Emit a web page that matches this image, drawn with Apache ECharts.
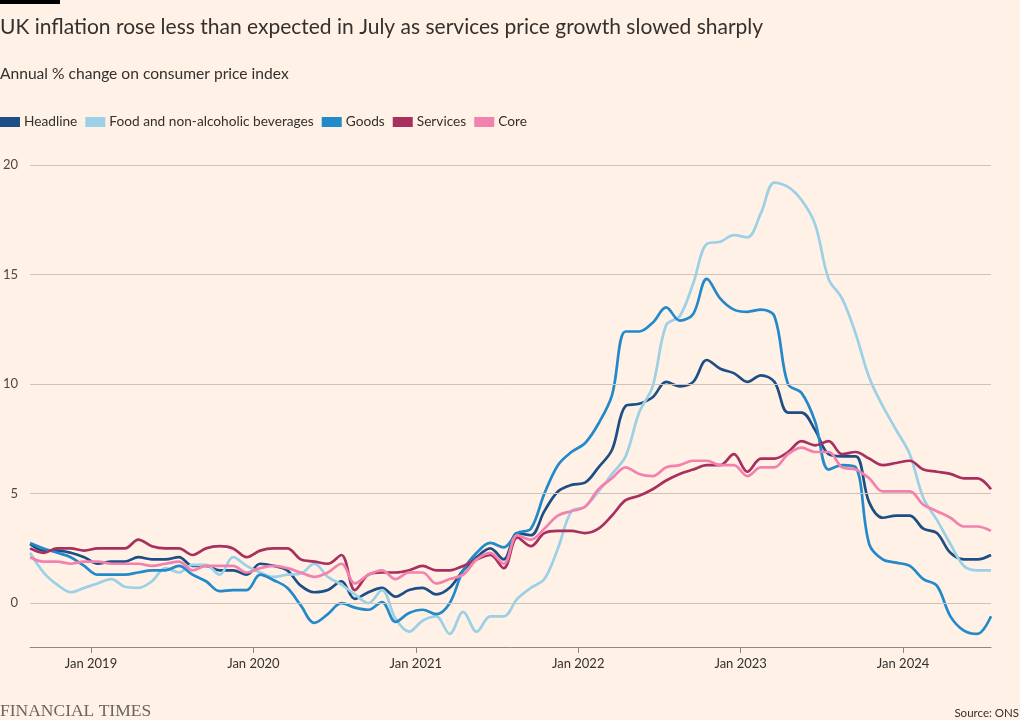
<!DOCTYPE html>
<html><head><meta charset="utf-8">
<script src="https://cdn.jsdelivr.net/npm/echarts@6.0.0/dist/echarts.min.js"></script>
<style>html,body{margin:0;padding:0;background:#fff1e5;}#chart{width:1020px;height:720px;}</style>
</head><body><div id="chart"></div>
<script>
// Monthly observations, Aug 2018 - Jul 2024
const months = [
 '2018-08','2018-09','2018-10','2018-11','2018-12',
 '2019-01','2019-02','2019-03','2019-04','2019-05','2019-06','2019-07','2019-08','2019-09','2019-10','2019-11','2019-12',
 '2020-01','2020-02','2020-03','2020-04','2020-05','2020-06','2020-07','2020-08','2020-09','2020-10','2020-11','2020-12',
 '2021-01','2021-02','2021-03','2021-04','2021-05','2021-06','2021-07','2021-08','2021-09','2021-10','2021-11','2021-12',
 '2022-01','2022-02','2022-03','2022-04','2022-05','2022-06','2022-07','2022-08','2022-09','2022-10','2022-11','2022-12',
 '2023-01','2023-02','2023-03','2023-04','2023-05','2023-06','2023-07','2023-08','2023-09','2023-10','2023-11','2023-12',
 '2024-01','2024-02','2024-03','2024-04','2024-05','2024-06','2024-07'
];
const headline = [
 2.7,2.4,2.4,2.3,2.1,
 1.8,1.9,1.9,2.1,2.0,2.0,2.1,1.7,1.7,1.5,1.5,1.3,
 1.8,1.7,1.5,0.8,0.5,0.6,1.0,0.2,0.5,0.7,0.3,0.6,
 0.7,0.4,0.7,1.5,2.1,2.5,2.0,3.2,3.1,4.2,5.1,5.4,
 5.5,6.2,7.0,9.0,9.1,9.4,10.1,9.9,10.1,11.1,10.7,10.5,
 10.1,10.4,10.1,8.7,8.7,7.9,6.8,6.7,6.7,4.6,3.9,4.0,
 4.0,3.4,3.2,2.3,2.0,2.0,2.2
];
const food = [
 2.3,1.4,0.85,0.5,0.7,
 0.9,1.1,0.75,0.7,1.0,1.6,1.4,1.75,1.75,1.3,2.1,1.7,
 1.4,1.2,1.3,1.35,1.8,1.2,0.85,0.4,0.0,0.6,-0.7,-1.3,
 -0.8,-0.6,-1.4,-0.4,-1.3,-0.6,-0.6,0.2,0.7,1.1,2.5,4.2,
 4.4,5.1,5.9,6.7,8.7,9.9,12.7,13.1,14.6,16.4,16.5,16.8,
 16.7,17.8,19.2,19.0,18.4,17.3,14.8,13.9,12.3,10.3,9.0,7.9,
 6.8,4.8,3.8,2.7,1.7,1.5,1.5
];
const goods = [
 2.75,2.5,2.3,2.1,1.7,
 1.3,1.3,1.3,1.4,1.5,1.5,1.7,1.3,1.0,0.55,0.6,0.6,
 1.3,1.05,0.7,-0.1,-0.9,-0.5,0.0,-0.2,-0.3,0.05,-0.85,-0.45,
 -0.3,-0.5,0.0,1.5,2.3,2.75,2.55,3.2,3.4,5.0,6.3,6.9,
 7.3,8.2,9.5,12.4,12.4,12.8,13.5,12.9,13.2,14.8,13.9,13.4,
 13.3,13.4,13.1,10.0,9.6,8.3,6.1,6.3,6.2,2.7,2.0,1.85,
 1.7,1.1,0.8,-0.6,-1.25,-1.4,-0.6
];
const services = [
 2.5,2.3,2.5,2.5,2.4,
 2.5,2.5,2.5,2.9,2.6,2.5,2.5,2.2,2.5,2.6,2.5,2.1,
 2.4,2.5,2.5,2.0,1.9,1.8,2.2,0.6,1.3,1.4,1.4,1.5,
 1.7,1.5,1.5,1.7,2.0,2.2,1.6,3.0,2.6,3.2,3.3,3.3,
 3.2,3.4,4.0,4.7,4.9,5.2,5.6,5.9,6.1,6.3,6.3,6.8,
 6.0,6.6,6.6,6.9,7.4,7.2,7.4,6.8,6.9,6.6,6.3,6.4,
 6.5,6.1,6.0,5.9,5.7,5.7,5.2
];
const core = [
 2.1,1.9,1.9,1.8,1.9,
 1.9,1.8,1.8,1.8,1.7,1.8,1.9,1.5,1.7,1.7,1.7,1.4,
 1.6,1.7,1.6,1.4,1.2,1.4,1.8,0.9,1.3,1.5,1.1,1.4,
 1.4,0.9,1.1,1.3,2.0,2.3,1.8,3.1,2.9,3.4,4.0,4.2,
 4.4,5.2,5.7,6.2,5.9,5.8,6.2,6.3,6.5,6.5,6.3,6.3,
 5.8,6.2,6.2,6.8,7.1,6.9,6.9,6.2,6.1,5.7,5.1,5.1,
 5.1,4.5,4.2,3.9,3.5,3.5,3.3
];
const seriesNames = ['Headline','Food and non-alcoholic beverages','Goods','Services','Core'];
const seriesColors = ['#1d4f86','#9bd0e6','#2289cb','#a8305e','#f282ad'];
const tickYears = [2019,2020,2021,2022,2023,2024];
const tickLabels = ['Jan 2019','Jan 2020','Jan 2021','Jan 2022','Jan 2023','Jan 2024'];
const yTicks = [0,5,10,15,20];

// month string -> decimal year at mid-month
function toX(ym){ const p = ym.split('-').map(Number); return p[0] + (p[1]-0.5)/12; }
const allValues = [headline, food, goods, services, core];

const FONT = 'Lato, "Noto Sans", sans-serif';
const chart = echarts.init(document.getElementById('chart'), null, {renderer:'canvas'});
const option = {
  backgroundColor:'#fff1e5',
  animation:false,
  textStyle:{fontFamily:FONT},
  title:[
    {text:'UK inflation rose less than expected in July as services price growth slowed sharply', left:0, top:17, padding:0,
     textStyle:{fontSize:21, fontWeight:'normal', color:'#33302e', fontFamily:FONT}},
    {text:'Annual % change on consumer price index', left:0, top:66, padding:0,
     textStyle:{fontSize:15.6, fontWeight:'normal', color:'#33302e', fontFamily:FONT}}
  ],
  legend:{left:0, top:115, padding:0, itemWidth:20, itemHeight:10, itemGap:8, icon:'rect',
    textStyle:{fontSize:13.7, color:'#33302e', fontFamily:FONT, padding:[1,0,0,-1]},
    data:seriesNames},
  grid:{left:28, right:29, top:165, bottom:73},
  xAxis:{type:'value', min:toX(months[0]), max:toX(months[months.length-1]),
    axisLine:{show:true, onZero:false, lineStyle:{color:'#8f8780', width:1}},
    axisTick:{show:true, customValues:tickYears, length:6, lineStyle:{color:'#8f8780'}},
    axisLabel:{customValues:tickYears, margin:10, fontSize:13, color:'#33302e', fontFamily:FONT,
      formatter:function(v){ const k = tickYears.indexOf(Math.round(v)); return k>=0 ? tickLabels[k] : ''; }},
    splitLine:{show:false}},
  yAxis:{type:'value', min:-2, max:20,
    axisLine:{show:false}, axisTick:{show:false},
    axisLabel:{customValues:yTicks, margin:12, fontSize:13, color:'#4d4845', fontFamily:FONT},
    splitLine:{show:false}},
  series: [{
      type:'line', data:[], silent:true, z:1,
      markLine:{silent:true, symbol:['none','none'], label:{show:false},
        lineStyle:{color:'#cdc3b8', type:'solid', width:1},
        data: yTicks.map(v=>({yAxis:v}))}
    }].concat(seriesNames.map((n,k)=>({
      name:n, type:'line', z:2+k, showSymbol:false, symbol:'none', smooth:0.35,
      color:seriesColors[k],
      lineStyle:{width:2.7, color:seriesColors[k]},
      data: months.map((m,i)=>[toX(m), allValues[k][i]])
  }))),
  graphic:[
    {type:'rect', left:0, top:0, shape:{width:60, height:4}, style:{fill:'#000000'}},
    {type:'text', left:0, top:702, style:{text:'FINANCIAL TIMES', fontFamily:'"Liberation Serif", serif', fontSize:17.5, fill:'#6b6560'}},
    {type:'text', right:1, top:707, style:{text:'Source: ONS', fontFamily:FONT, fontSize:11.5, fill:'#33302e'}}
  ]
};
chart.setOption(option);
</script>
</body></html>
